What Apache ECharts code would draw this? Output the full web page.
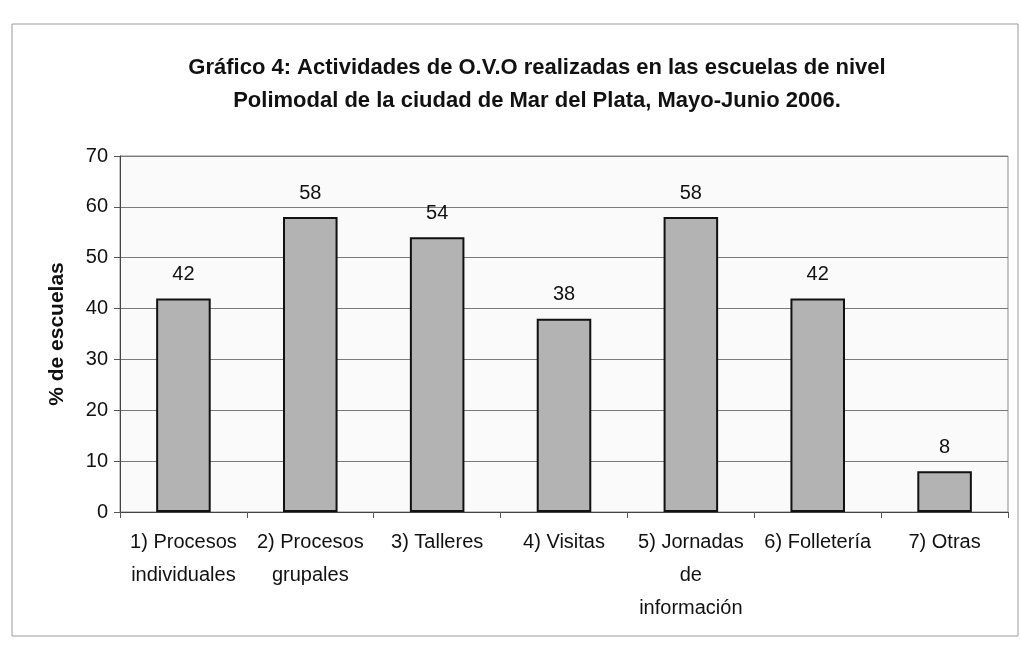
<!DOCTYPE html>
<html>
<head>
<meta charset="utf-8">
<script src="https://cdn.jsdelivr.net/npm/echarts@6/dist/echarts.min.js"></script>
<style>
  html, body { margin: 0; padding: 0; background: #ffffff; }
  #chart { width: 1020px; height: 649px; }
</style>
</head>
<body>
<div id="chart"></div>
<script>
// datos
const categorias = [
    '1) Procesos\nindividuales',
    '2) Procesos\ngrupales',
    '3) Talleres',
    '4) Visitas',
    '5) Jornadas\nde\ninformación',
    '6) Folletería',
    '7) Otras'
]
const porcentajes = [42, 58, 54, 38, 58, 42, 8]
const ticksY = [0, 10, 20, 30, 40, 50, 60, 70]

const chart = echarts.init(document.getElementById('chart'))

const fuente = '"Liberation Sans", Arial, sans-serif'

const option = {
    backgroundColor: '#ffffff',
    animation: false,
    title: {
        text: 'Gráfico 4: Actividades de O.V.O realizadas en las escuelas de nivel\nPolimodal de la ciudad de Mar del Plata, Mayo-Junio 2006.',
        left: 532,
        top: 46,
        textAlign: 'center',
        textStyle: {
            fontFamily: fuente,
            fontSize: 22,
            fontWeight: 'bold',
            color: '#111',
            lineHeight: 33
        }
    },
    graphic: [
        {
            type: 'rect',
            shape: { x: 12, y: 24, width: 1006, height: 612 },
            style: { fill: 'none', stroke: '#9a9a9a', lineWidth: 1 },
            silent: true
        }
    ],
    grid: {
        left: 120,
        right: 12,
        top: 156,
        bottom: 137,
        show: true,
        borderColor: '#8a8a8a',
        borderWidth: 1,
        backgroundColor: '#fafafa'
    },
    xAxis: {
        type: 'category',
        data: categorias,
        axisLine: { lineStyle: { color: '#444', width: 1 } },
        axisTick: { show: true, length: 6, lineStyle: { color: '#555' } },
        axisLabel: {
            color: '#111',
            fontFamily: fuente,
            fontSize: 20,
            lineHeight: 33,
            margin: 14,
            interval: 0
        }
    },
    yAxis: {
        type: 'value',
        min: 0,
        max: 70,
        interval: 10,
        name: '% de escuelas',
        nameLocation: 'middle',
        nameGap: 52,
        nameTextStyle: {
            fontFamily: fuente,
            fontSize: 21,
            fontWeight: 'bold',
            color: '#111'
        },
        axisLine: { show: true, lineStyle: { color: '#444' } },
        axisTick: { show: true, length: 6, lineStyle: { color: '#555' } },
        axisLabel: {
            color: '#111',
            fontFamily: fuente,
            fontSize: 20,
            margin: 12,
            formatter: v => ticksY.includes(v) ? String(v) : ''
        },
        splitLine: { lineStyle: { color: '#7a7a7a', width: 1 } }
    },
    series: [
        {
            type: 'bar',
            data: porcentajes,
            barWidth: '43%',
            itemStyle: {
                color: '#b3b3b3',
                borderColor: '#111',
                borderWidth: 2
            },
            label: {
                show: true,
                position: 'top',
                distance: 14,
                color: '#111',
                fontFamily: fuente,
                fontSize: 20
            }
        }
    ]
}

chart.setOption(option)
</script>
</body>
</html>
